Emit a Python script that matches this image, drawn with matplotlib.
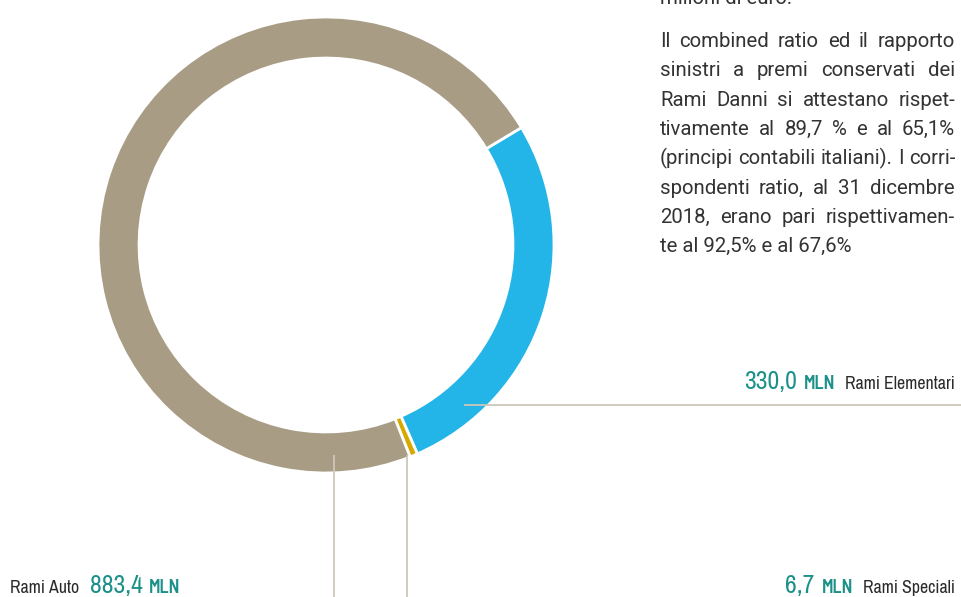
import matplotlib.pyplot as plt

# Data
labels = ["Rami Elementari", "Rami Speciali", "Rami Auto"]
values = [330.0, 6.7, 883.4]
value_texts = ["330,0", "6,7", "883,4"]
colors = ["#23b5e8", "#d6a900", "#a89c85"]

paragraph = [
    "Il combined ratio ed il rapporto",
    "sinistri a premi conservati dei",
    "Rami Danni si attestano rispet-",
    "tivamente al 89,7 % e al 65,1%",
    "(principi contabili italiani). I corri-",
    "spondenti ratio, al 31 dicembre",
    "2018, erano pari rispettivamen-",
    "te al 92,5% e al 67,6%",
]
cut_line = "milioni di euro."

TEAL = "#1b9189"
DARK = "#2b2b2b"
LEADER = "#cdc7b9"
NARROW = ["Archivo Narrow", "DejaVu Sans"]
NARROW_BOLD = ["Barlow Semi Condensed", "DejaVu Sans"]
BODY = ["Roboto", "DejaVu Sans"]

W, H = 961, 597
fig = plt.figure(figsize=(W / 100, H / 100), dpi=100)

# donut
cx, cy, r = 326, 245, 228
ax = fig.add_axes([(cx - r) / W, (H - cy - r) / H, 2 * r / W, 2 * r / H])
ax.pie(values, colors=colors, startangle=31, counterclock=False, radius=1,
       wedgeprops=dict(width=0.18, edgecolor="white", linewidth=2))
ax.set_xlim(-1, 1)
ax.set_ylim(-1, 1)
ax.set_aspect("equal")
ax.axis("off")

# overlay in pixel coords (y down)
ov = fig.add_axes([0, 0, 1, 1], zorder=5)
ov.set_xlim(0, W)
ov.set_ylim(H, 0)
ov.axis("off")

# leader lines
ov.plot([464, W], [405, 405], color=LEADER, lw=1.3, solid_capstyle="butt")
ov.plot([407, 407], [455, H], color=LEADER, lw=1.3, solid_capstyle="butt")
ov.plot([334, 334], [455, H], color=LEADER, lw=1.3, solid_capstyle="butt")

fig.canvas.draw()
rend = fig.canvas.get_renderer()


def width(t):
    return t.get_window_extent(renderer=rend).width


def piece(s, x, y, ha, **kw):
    t = ov.text(x, y, s, ha=ha, va="baseline", **kw)
    return t, width(t)


mln = dict(fontsize=13.3, color=TEAL, family=NARROW_BOLD, fontweight="semibold")


def label_right(x_right, y, val, name):
    _, w = piece(name, x_right, y, "right", fontsize=12.8, color=DARK, family=NARROW)
    x = x_right - w - 10
    _, w = piece("MLN", x, y, "right", **mln)
    x = x - w - 7
    piece(val, x, y, "right", fontsize=18.5, color=TEAL, family=NARROW)


def label_left(x_left, y, val, name):
    _, w = piece(name, x_left, y, "left", fontsize=12.8, color=DARK, family=NARROW)
    x = x_left + w + 11
    _, w = piece(val, x, y, "left", fontsize=18.5, color=TEAL, family=NARROW)
    x = x + w + 6
    piece("MLN", x, y, "left", **mln)


label_right(955, 389, value_texts[0], labels[0])
label_right(955, 593, value_texts[1], labels[1])
label_left(10, 593, value_texts[2], labels[2])

# paragraph, justified
x0, x1 = 660, 955
body = dict(fontsize=14.7, color="#333333", family=BODY, fontweight="normal")
ov.text(x0, 4, cut_line, ha="left", va="baseline", **body)
base = 47
step = 29.3
for i, line in enumerate(paragraph):
    y = base + i * step
    if i == len(paragraph) - 1:
        ov.text(x0, y, line, ha="left", va="baseline", **body)
        continue
    words = line.split(" ")
    ts = [ov.text(0, y, w_, ha="left", va="baseline", **body) for w_ in words]
    ws = [width(t) for t in ts]
    gap = (x1 - x0 - sum(ws)) / (len(words) - 1)
    x = x0
    for t, w_ in zip(ts, ws):
        t.set_x(x)
        x += w_ + gap

fig.savefig("out.png", dpi=100, facecolor="white")
